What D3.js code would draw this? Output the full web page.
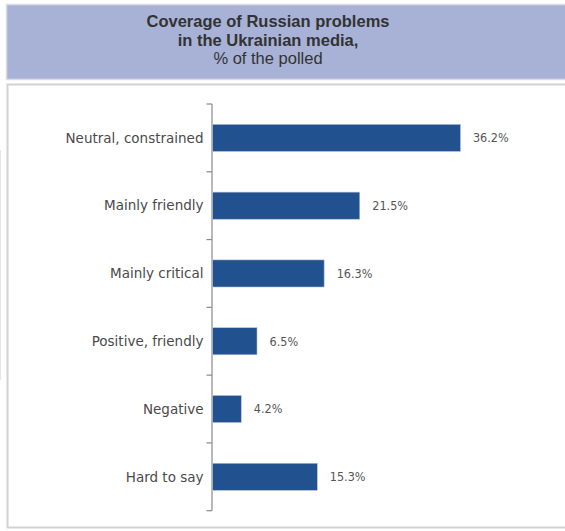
<!DOCTYPE html>
<html>
<head>
<meta charset="utf-8">
<script src="https://cdn.jsdelivr.net/npm/d3@7/dist/d3.min.js"></script>
<style>
  html, body { margin: 0; padding: 0; background: #fff; }
  svg { display: block; }
</style>
</head>
<body>
<svg id="chart" width="565" height="531"></svg>
<script>
// Survey answers and shares (%)
const categories = ["Neutral, constrained", "Mainly friendly", "Mainly critical", "Positive, friendly", "Negative", "Hard to say"];
const values = [36.2, 21.5, 16.3, 6.5, 4.2, 15.3];
const valueLabels = ["36.2%", "21.5%", "16.3%", "6.5%", "4.2%", "15.3%"];
const titleLines = ["Coverage of Russian problems", "in the Ukrainian media,", "% of the polled"];

const svg = d3.select("#chart");

// faint edge of a neighbouring panel on the far left
svg.append("line")
  .attr("x1", 0.5).attr("x2", 0.5).attr("y1", 150).attr("y2", 380)
  .attr("stroke", "#e4e4e4").attr("stroke-width", 1);

// Title panel
svg.append("rect")
  .attr("x", 6.5).attr("y", 4.5).attr("width", 570).attr("height", 75)
  .attr("fill", "#a8b2d6").attr("stroke", "#dcdde3").attr("stroke-width", 1.5);

const title = svg.append("text")
  .attr("text-anchor", "middle")
  .attr("font-family", "Liberation Sans, Arial, sans-serif")
  .attr("fill", "#333");
titleLines.forEach((t, i) => {
  title.append("tspan")
    .attr("x", 268).attr("y", 27 + i * 18.5)
    .attr("font-size", 16.5)
    .attr("font-weight", i < 2 ? "bold" : "normal")
    .text(t);
});

// Plot panel
svg.append("rect")
  .attr("x", 7.5).attr("y", 84.5).attr("width", 570).attr("height", 443)
  .attr("fill", "#fff").attr("stroke", "#d2d2d2").attr("stroke-width", 2);

// Scales
const x0 = 212;
const x = d3.scaleLinear().domain([0, 40]).range([x0, x0 + 274]);
const y = d3.scaleBand().domain(categories).range([104, 510.7]).paddingInner(0.6).paddingOuter(0.3);
const yTicks = d3.scaleBand().domain(categories).range([104, 510.7]).padding(0);

// Category axis
const axisG = svg.append("g").attr("transform", `translate(${x0},0)`);
axisG.append("line")
  .attr("x1", 0).attr("x2", 0).attr("y1", 104).attr("y2", 510.7)
  .attr("stroke", "#8a8a8a").attr("stroke-width", 1.2);
const tickYs = categories.map(c => yTicks(c)).concat([510.7]);
axisG.selectAll("line.tick").data(tickYs).join("line")
  .attr("class", "tick")
  .attr("x1", -5.5).attr("x2", 0)
  .attr("y1", d => d).attr("y2", d => d)
  .attr("stroke", "#8a8a8a").attr("stroke-width", 1.2);

// Category labels
svg.append("g").selectAll("text").data(categories).join("text")
  .attr("x", 203.5)
  .attr("y", d => y(d) + y.bandwidth() / 2)
  .attr("dy", "0.35em")
  .attr("text-anchor", "end")
  .attr("font-family", "'DejaVu Sans', sans-serif")
  .attr("font-size", 13.5)
  .attr("fill", "#4a4a4a")
  .text(d => d);

// Bars
svg.append("g").selectAll("rect").data(values).join("rect")
  .attr("x", x(0) + 0.5)
  .attr("y", (d, i) => y(categories[i]))
  .attr("width", d => x(d) - x(0))
  .attr("height", y.bandwidth())
  .attr("fill", "#21518f")
  .attr("stroke", "#b9c4d8")
  .attr("stroke-width", 0.6);

// Value labels
svg.append("g").selectAll("text").data(values).join("text")
  .attr("x", d => x(d) + 13)
  .attr("y", (d, i) => y(categories[i]) + y.bandwidth() / 2)
  .attr("dy", "0.35em")
  .attr("font-family", "'DejaVu Sans Condensed', 'DejaVu Sans', sans-serif")
  .attr("font-stretch", "condensed")
  .attr("font-size", 12.5)
  .attr("fill", "#555")
  .text((d, i) => valueLabels[i]);
</script>
</body>
</html>
